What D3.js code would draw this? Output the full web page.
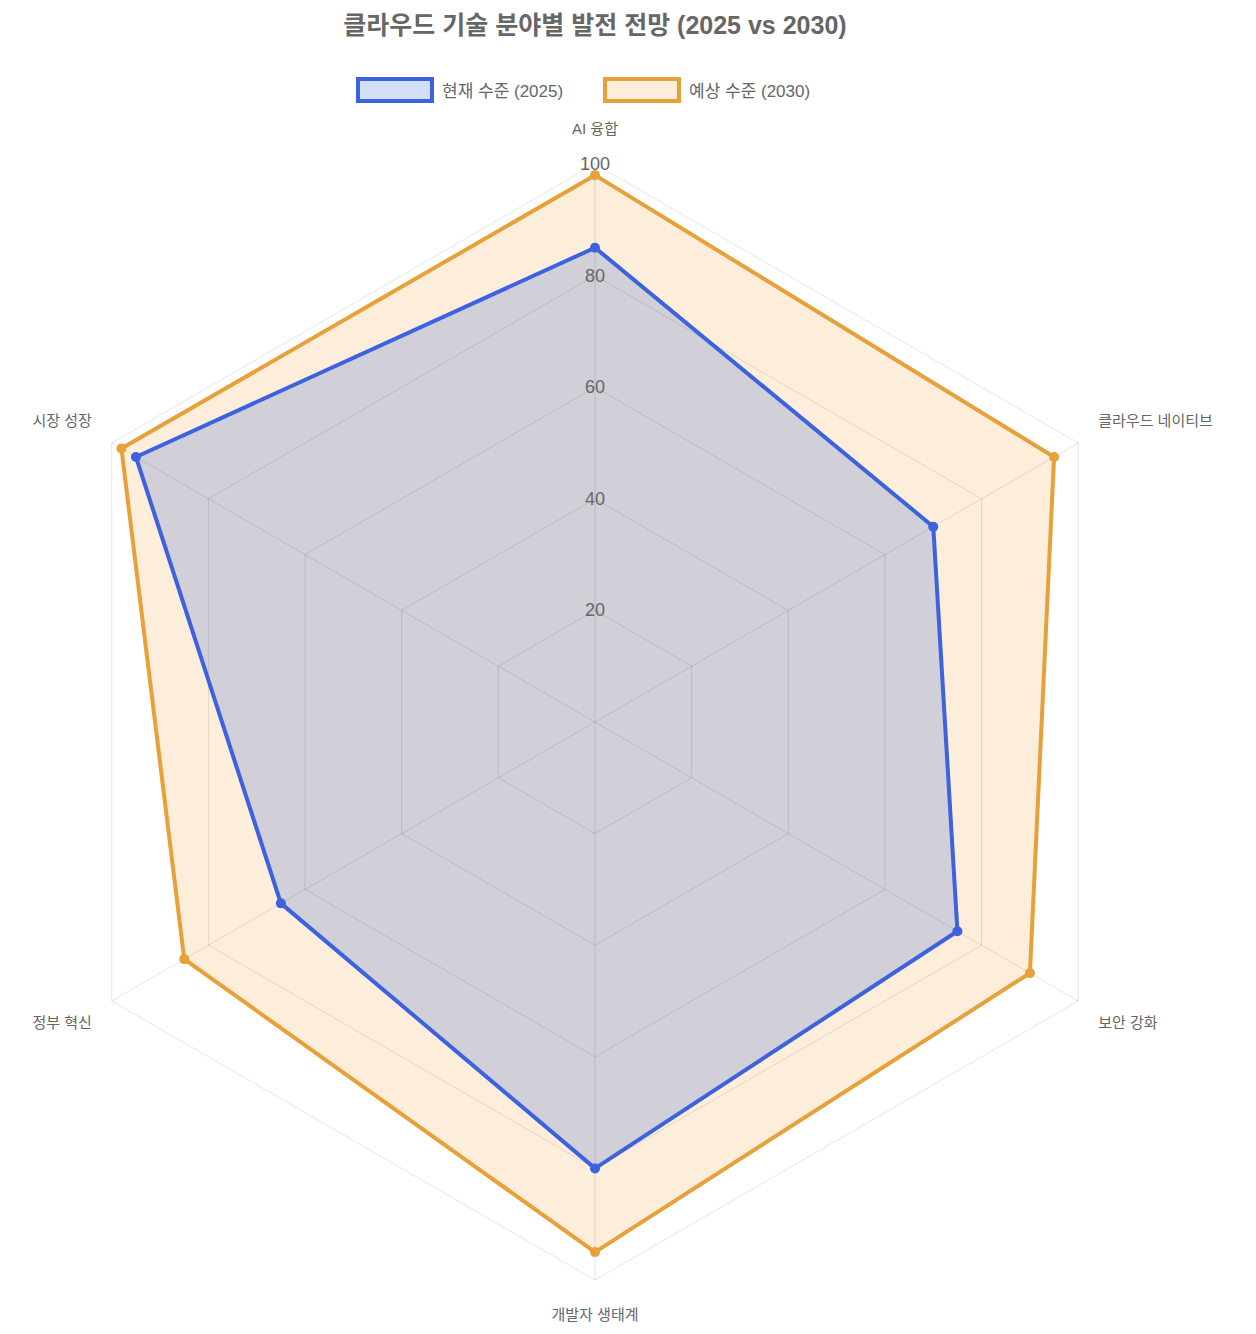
<!DOCTYPE html>
<html><head><meta charset="utf-8">
<script src="https://cdn.jsdelivr.net/npm/d3@7"></script>
<style>body{margin:0;background:#fff;font-family:"Liberation Sans","Noto Sans CJK KR",sans-serif;}</style>
</head><body><div id="chart"></div>
<script>
const categories = ["AI 융합", "클라우드 네이티브", "보안 강화", "개발자 생태계", "정부 혁신", "시장 성장"];
const current2025 = [85, 70, 75, 80, 65, 95];
const expected2030 = [98, 95, 90, 95, 85, 98];
const ticks = [20, 40, 60, 80, 100];

const width = 1256, height = 1334;
const cx = 595, cy = 722, R = 558;
const svg = d3.select("#chart").append("svg").attr("width", width).attr("height", height);

const r = d3.scaleLinear().domain([0, 100]).range([0, R]);
const ang = i => -Math.PI / 2 + i * 2 * Math.PI / categories.length;
const pt = (i, v) => [cx + r(v) * Math.cos(ang(i)), cy + r(v) * Math.sin(ang(i))];

svg.append("text").attr("x", 595).attr("y", 34).attr("text-anchor", "middle")
    .style("font-size", "25px").style("font-weight", "bold").style("fill", "#666")
    .text("클라우드 기술 분야별 발전 전망 (2025 vs 2030)");

// legend
const legend = [
    {label: "현재 수준 (2025)", stroke: "#3d62e0", fill: "rgba(40,90,215,0.2)", x: 358},
    {label: "예상 수준 (2030)", stroke: "#e8a03a", fill: "rgba(240,170,70,0.2)", x: 605}
];
legend.forEach(l => {
    svg.append("rect").attr("x", l.x).attr("y", 79).attr("width", 74).attr("height", 22)
        .attr("fill", l.fill).attr("stroke", l.stroke).attr("stroke-width", 4);
    svg.append("text").attr("x", l.x + 84).attr("y", 97).style("font-size", "17px").style("fill", "#666").text(l.label);
});

const line = d3.line().curve(d3.curveLinearClosed);
const series = [
    {vals: expected2030, stroke: "#e8a03a", fill: "rgba(240,170,70,0.2)"},
    {vals: current2025, stroke: "#3d62e0", fill: "rgba(40,90,215,0.2)"}
];
series.forEach(s => {
    svg.append("path").attr("d", line(s.vals.map((v, i) => pt(i, v)))).attr("fill", s.fill);
});

// grid
ticks.forEach(t => {
    svg.append("path").attr("d", line(categories.map((c, i) => pt(i, t))))
        .attr("fill", "none").attr("stroke", "rgba(0,0,0,0.1)");
});
categories.forEach((c, i) => {
    const [x, y] = pt(i, 100);
    svg.append("line").attr("x1", cx).attr("y1", cy).attr("x2", x).attr("y2", y).attr("stroke", "rgba(0,0,0,0.1)");
});

series.forEach(s => {
    const pts = s.vals.map((v, i) => pt(i, v));
    svg.append("path").attr("d", line(pts)).attr("fill", "none").attr("stroke", s.stroke)
        .attr("stroke-width", 4).attr("stroke-linejoin", "round");
    svg.selectAll(null).data(pts).enter().append("circle")
        .attr("cx", d => d[0]).attr("cy", d => d[1]).attr("r", 5).attr("fill", s.stroke);
});

ticks.forEach(t => {
    svg.append("text").attr("x", cx).attr("y", cy - r(t) + 6).attr("text-anchor", "middle")
        .style("font-size", "18px").style("fill", "#666").text(t);
});

categories.forEach((c, i) => {
    const [x, y] = pt(i, 100);
    const cosA = Math.cos(ang(i));
    let anchor = "middle", tx = x, ty = y;
    if (Math.abs(cosA) < 0.01) { ty = y < cy ? y - 30 : y + 40; }
    else { anchor = cosA > 0 ? "start" : "end"; tx = x + (cosA > 0 ? 20 : -20); ty = y < cy ? y - 17 : y + 27; }
    svg.append("text").attr("x", tx).attr("y", ty).attr("text-anchor", anchor)
        .style("font-size", "15px").style("fill", "#666").text(c);
});
</script></body></html>
